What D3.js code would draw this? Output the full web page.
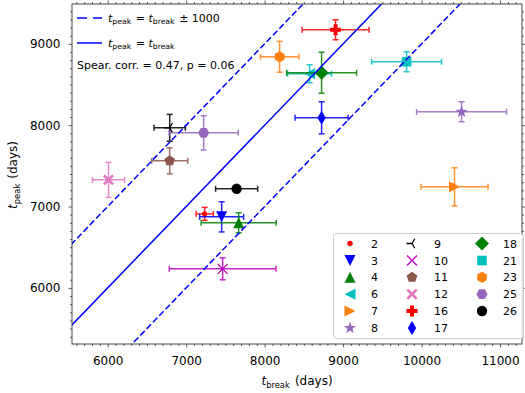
<!DOCTYPE html>
<html><head><meta charset="utf-8">
<script src="https://cdn.jsdelivr.net/npm/d3@7"></script>
<style>body{margin:0;background:#fff} text{font-family:"DejaVu Sans",sans-serif;fill:#000}</style>
</head><body><svg id="c" width="525" height="393"></svg>
<script>
// ---- data ----
const ids       = [2, 3, 4, 6, 7, 8, 9, 10, 11, 12, 16, 17, 18, 21, 23, 25, 26];
const tBreak    = [7236, 7452, 7669, 8573, 10420, 10510, 6790, 7465, 6790, 6010, 8904, 8726, 8726, 9809, 8191, 7223, 7643];
const tBreakErr = [110, 280, 478, 280, 427, 573, 200, 680, 230, 205, 427, 338, 446, 446, 245, 440, 268];
const tPeak     = [6910, 6873, 6800, 8632, 7242, 8165, 7968, 6234, 7562, 7328, 9173, 8091, 8645, 8780, 8841, 7906, 7218];
const tPeakErr  = [80, 185, 123, 110, 234, 123, 165, 135, 160, 215, 123, 197, 252, 123, 190, 210, 25];
const markers   = [".", "v", "^", "<", ">", "*", "3", "x", "p", "X", "P", "d", "D", "s", "h", "H", "o"];
const colors    = ["#ff0000", "#0000ff", "#008000", "#00bfbf", "#ff7f0e", "#9467bd", "#000000", "#bf00bf", "#8c564b", "#e377c2", "#ff0000", "#0000ff", "#008000", "#00bfbf", "#ff7f0e", "#9467bd", "#000000"];
const xTicks = [6000, 7000, 8000, 9000, 10000, 11000];
const yTicks = [6000, 7000, 8000, 9000];
const offset = 1000;
const corrText = "Spear. corr. = 0.47, p = 0.06";

// ---- layout ----
const L = 72, R = 522, T = 4, B = 344;
const svg = d3.select("#c");
const x = d3.scaleLinear().domain([5545, 11280]).range([L, R]);
const y = d3.scaleLinear().domain([5310, 9490]).range([B, T]);
const xMinor = d3.range(5600, 11280, 100).filter(v => v % 1000 !== 0);
const yMinor = d3.range(5400, 9490, 100).filter(v => v % 1000 !== 0);

svg.append("defs").append("clipPath").attr("id", "clip")
  .append("rect").attr("x", L).attr("y", T).attr("width", R - L).attr("height", B - T);

// ---- marker paths ----
function poly(pts) { return "M" + pts.map(p => p[0].toFixed(2) + "," + p[1].toFixed(2)).join("L") + "Z"; }
function regular(n, r, rot) {
  const pts = [];
  for (let i = 0; i < n; i++) { const a = rot + i * 2 * Math.PI / n; pts.push([r * Math.sin(a), -r * Math.cos(a)]); }
  return poly(pts);
}
function markerPath(m) {
  const s = 5.5;
  switch (m) {
    case ".": return d3.symbol(d3.symbolCircle, Math.PI * 2.7 * 2.7)();
    case "o": return d3.symbol(d3.symbolCircle, Math.PI * 5.2 * 5.2)();
    case "v": return poly([[0, s], [-s, -s], [s, -s]]);
    case "^": return poly([[0, -s], [-s, s], [s, s]]);
    case "<": return poly([[-s, 0], [s, -s], [s, s]]);
    case ">": return poly([[s, 0], [-s, -s], [-s, s]]);
    case "s": return poly([[-4.8, -4.8], [4.8, -4.8], [4.8, 4.8], [-4.8, 4.8]]);
    case "D": return poly([[0, -7], [7, 0], [0, 7], [-7, 0]]);
    case "d": return poly([[0, -7], [4.2, 0], [0, 7], [-4.2, 0]]);
    case "p": return regular(5, 5.6, 0);
    case "h": return regular(6, 5.6, 0);
    case "H": return regular(6, 5.6, Math.PI / 6);
    case "*": {
      const pts = [];
      for (let i = 0; i < 10; i++) { const r = i % 2 ? 2.6 : 6.4, a = i * Math.PI / 5; pts.push([r * Math.sin(a), -r * Math.cos(a)]); }
      return poly(pts);
    }
    case "X": {
      const a = 5.5, w = 1.9, pts = [];
      const base = [[w, 0], [a, a - w], [a - w, a], [0, w]];
      const rot = (p, k) => { const c = Math.cos(k * Math.PI / 2), sn = Math.sin(k * Math.PI / 2); return [p[0] * c - p[1] * sn, p[0] * sn + p[1] * c]; };
      for (let k = 0; k < 4; k++) base.forEach(p => pts.push(rot(p, k)));
      return poly(pts);
    }
    case "P": {
      const a = 5.5, w = 2.0;
      return poly([[-w, -a], [w, -a], [w, -w], [a, -w], [a, w], [w, w], [w, a], [-w, a], [-w, w], [-a, w], [-a, -w], [-w, -w]]);
    }
    case "x": return "M-5,-5L5,5M-5,5L5,-5";
    case "3": {
      const r = 5.5, c = Math.cos(Math.PI / 3) * r, sn = Math.sin(Math.PI / 3) * r;
      return `M0,0L${-r},0M0,0L${c},${-sn}M0,0L${c},${sn}`;
    }
  }
}
const stroked = m => m === "x" || m === "3";

// ---- axes ----
function addAxis(gen, transform, vals, size, labels, pad) {
  const g = svg.append("g").attr("transform", transform)
    .call(gen.tickValues(vals).tickSize(size).tickPadding(pad || 3)
      .tickFormat(labels ? d3.format("d") : ""));
  g.select(".domain").remove();
  g.selectAll("line").attr("stroke", "#333").attr("stroke-width", 0.8);
  g.selectAll("text").attr("font-size", 12).attr("fill", "#000").attr("font-family", "DejaVu Sans");
  return g;
}
addAxis(d3.axisBottom(x), `translate(0,${B})`, xTicks, 3.5, true, 9);
addAxis(d3.axisBottom(x), `translate(0,${B})`, xMinor, 2, false);
addAxis(d3.axisTop(x), `translate(0,${T})`, xTicks, 3.5, false);
addAxis(d3.axisTop(x), `translate(0,${T})`, xMinor, 2, false);
addAxis(d3.axisLeft(y), `translate(${L},0)`, yTicks, 3.5, true, 8);
addAxis(d3.axisLeft(y), `translate(${L},0)`, yMinor, 2, false);
addAxis(d3.axisRight(y), `translate(${R},0)`, yTicks, 3.5, false);
addAxis(d3.axisRight(y), `translate(${R},0)`, yMinor, 2, false);

// ---- data points with error bars ----
const cap = 3;
const pg = svg.append("g");
ids.forEach((id, i) => {
  const g = pg.append("g");
  const cx = x(tBreak[i]), cy = y(tPeak[i]);
  const x0 = x(tBreak[i] - tBreakErr[i]), x1 = x(tBreak[i] + tBreakErr[i]);
  const y0 = y(tPeak[i] - tPeakErr[i]), y1 = y(tPeak[i] + tPeakErr[i]);
  const eb = g.append("g").attr("stroke", colors[i]).attr("stroke-width", 1.5).attr("opacity", 0.85);
  eb.append("line").attr("x1", x0).attr("x2", x1).attr("y1", cy).attr("y2", cy);
  eb.append("line").attr("x1", cx).attr("x2", cx).attr("y1", y0).attr("y2", y1);
  [x0, x1].forEach(xx => eb.append("line").attr("x1", xx).attr("x2", xx).attr("y1", cy - cap).attr("y2", cy + cap));
  [y0, y1].forEach(yy => eb.append("line").attr("x1", cx - cap).attr("x2", cx + cap).attr("y1", yy).attr("y2", yy));
  const p = g.append("path").attr("d", markerPath(markers[i])).attr("transform", `translate(${cx},${cy})`);
  if (stroked(markers[i])) p.attr("fill", "none").attr("stroke", colors[i]).attr("stroke-width", 1.3);
  else p.attr("fill", colors[i]);
});

// ---- reference lines ----
const lg = svg.append("g").attr("clip-path", "url(#clip)");
const dom = [4000, 12000];
const line = d3.line().x(d => x(d[0])).y(d => y(d[1]));
lg.append("path").attr("d", line(dom.map(v => [v, v]))).attr("stroke", "#0000ff").attr("stroke-width", 1.5).attr("fill", "none");
[offset, -offset].forEach(o => lg.append("path").attr("d", line(dom.map(v => [v, v + o])))
  .attr("stroke", "#0000ff").attr("stroke-width", 1.5).attr("stroke-dasharray", "6.3,2.8").attr("fill", "none"));

// frame
svg.append("rect").attr("x", L).attr("y", T).attr("width", R - L).attr("height", B - T)
  .attr("fill", "none").attr("stroke", "#333").attr("stroke-width", 0.9);

// ---- text helper for t_sub ----
function tsub(sel, sub, fs) {
  sel.append("tspan").attr("font-style", "italic").text("t");
  sel.append("tspan").attr("font-size", fs * 0.7).attr("dy", fs * 0.22).text(sub);
  sel.append("tspan").attr("dy", -fs * 0.22).text("\u200A");
}

// top-left legend
const fsL = 11;
svg.append("line").attr("x1", 77).attr("x2", 102).attr("y1", 18).attr("y2", 18)
  .attr("stroke", "#0000ff").attr("stroke-width", 1.5).attr("stroke-dasharray", "10,6");
let t1 = svg.append("text").attr("x", 108).attr("y", 22).attr("font-size", fsL);
tsub(t1, "peak", fsL); t1.append("tspan").text(" = "); tsub(t1, "break", fsL); t1.append("tspan").text(" \u00b1 1000");
svg.append("line").attr("x1", 77).attr("x2", 102).attr("y1", 43).attr("y2", 43)
  .attr("stroke", "#0000ff").attr("stroke-width", 1.5);
let t2 = svg.append("text").attr("x", 108).attr("y", 47).attr("font-size", fsL);
tsub(t2, "peak", fsL); t2.append("tspan").text(" = "); tsub(t2, "break", fsL);
svg.append("text").attr("x", 77).attr("y", 69).attr("font-size", fsL).text(corrText);

// axis labels
let xl = svg.append("text").attr("x", 297).attr("y", 385).attr("text-anchor", "middle").attr("font-size", 12);
tsub(xl, "break", 12); xl.append("tspan").text(" (days)");
let yl = svg.append("text").attr("transform", "translate(17,175) rotate(-90)").attr("text-anchor", "middle").attr("font-size", 12);
tsub(yl, "peak", 12); yl.append("tspan").text(" (days)");

// ---- bottom-right legend ----
const leg = svg.append("g");
leg.append("rect").attr("x", 333.5).attr("y", 233.5).attr("width", 190).attr("height", 105).attr("rx", 3)
  .attr("fill", "#fff").attr("fill-opacity", 0.8).attr("stroke", "#cccccc");
const colMX = [350, 412, 482], colTX = [371, 434, 503];
const rowY = [243.5, 260.5, 277.3, 294.2, 311, 328];
ids.forEach((id, i) => {
  const c = Math.floor(i / 6), r = i % 6;
  const p = leg.append("path").attr("d", markerPath(markers[i])).attr("transform", `translate(${colMX[c]},${rowY[r]})`);
  if (stroked(markers[i])) p.attr("fill", "none").attr("stroke", colors[i]).attr("stroke-width", 1.3);
  else p.attr("fill", colors[i]);
  leg.append("text").attr("x", colTX[c]).attr("y", rowY[r] + 4).attr("font-size", fsL).text(id);
});
</script>
</body></html>
